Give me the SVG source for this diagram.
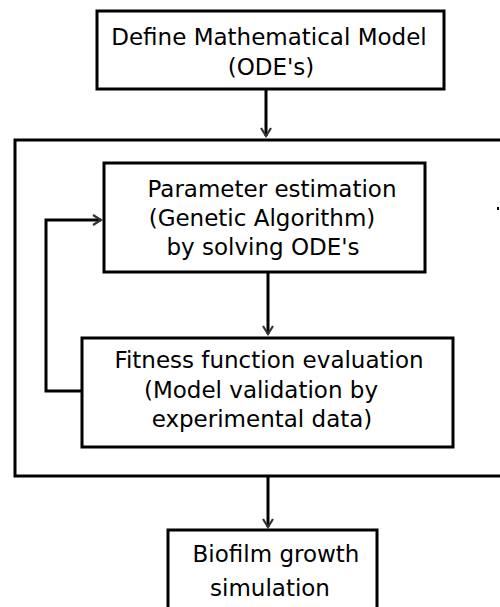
<svg xmlns="http://www.w3.org/2000/svg" width="500" height="607" viewBox="0 0 500 607">
<style>
.box{fill:#fff;stroke:#000;stroke-width:3}
.outer{fill:none;stroke:#000;stroke-width:3}
.t{font-family:"DejaVu Sans",sans-serif;font-size:23px;fill:#000;text-anchor:middle}
.c{fill:none;stroke:#000;stroke-width:3}
</style>
<defs>
<marker id="ah" viewBox="0 0 12 12" refX="10" refY="6" markerWidth="12" markerHeight="12" markerUnits="userSpaceOnUse" orient="auto">
<path d="M2,1 L10,6 L2,11" fill="none" stroke="#333" stroke-width="2.2"/>
</marker>
</defs>
<rect x="0" y="0" width="500" height="607" fill="#fff"/>
<g id="outer-loop">
<rect class="outer" x="15" y="140" width="500" height="336"/>
</g>
<g id="connectors">
<line class="c" x1="266" y1="89" x2="266" y2="136" marker-end="url(#ah)"/>
<line class="c" x1="268" y1="272" x2="268" y2="334" marker-end="url(#ah)"/>
<polyline class="c" points="82,391 46,391 46,220 101,220" marker-end="url(#ah)"/>
<line class="c" x1="268" y1="476" x2="268" y2="527" marker-end="url(#ah)"/>
</g>
<g id="define-model">
<rect class="box" x="97" y="11" width="347" height="78"/>
<text class="t" x="269" y="45">Define Mathematical Model</text>
<text class="t" x="271" y="75">(ODE's)</text>
</g>
<g id="parameter-estimation">
<rect class="box" x="104" y="163" width="321" height="109"/>
<text class="t" x="272" y="197">Parameter estimation</text>
<text class="t" x="262" y="226">(Genetic Algorithm)</text>
<text class="t" x="263" y="255">by solving ODE's</text>
</g>
<g id="fitness-evaluation">
<rect class="box" x="82" y="338" width="371" height="109"/>
<text class="t" x="269" y="368">Fitness function evaluation</text>
<text class="t" x="261" y="398">(Model validation by</text>
<text class="t" x="262" y="427">experimental data)</text>
</g>
<g id="biofilm-simulation">
<rect class="box" x="168" y="530" width="209" height="100"/>
<text class="t" x="276" y="562">Biofilm growth</text>
<text class="t" x="270" y="596">simulation</text>
</g>
<rect x="497" y="207" width="2" height="3" fill="#000"/>
</svg>
